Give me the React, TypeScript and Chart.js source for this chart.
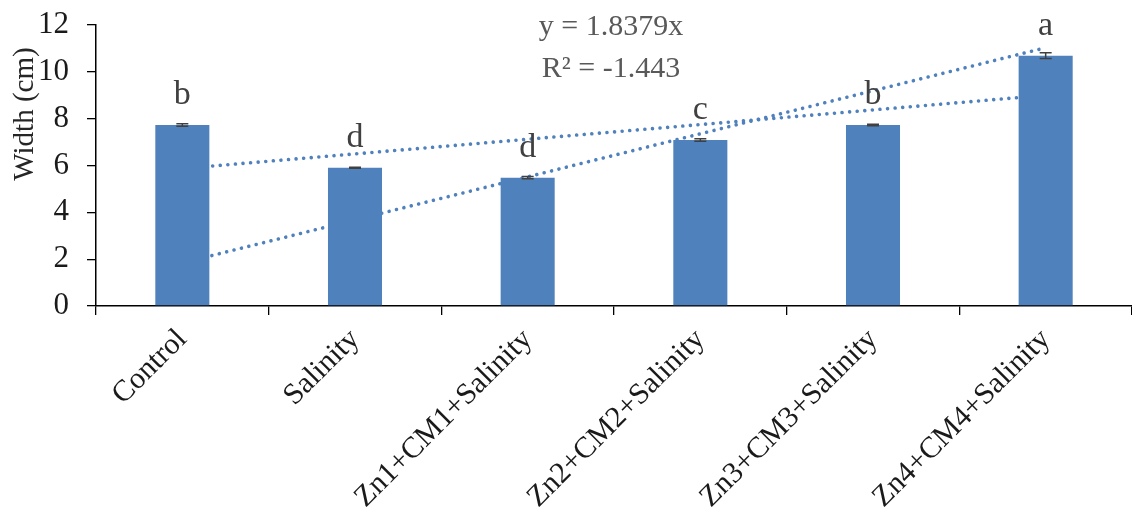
import React, { useEffect, useRef } from "react";
import { Chart, registerables } from "chart.js";

Chart.register(...registerables);

const categories = [
  "Control",
  "Salinity",
  "Zn1+CM1+Salinity",
  "Zn2+CM2+Salinity",
  "Zn3+CM3+Salinity",
  "Zn4+CM4+Salinity",
];
const widthValues = [7.73, 5.9, 5.48, 7.09, 7.73, 10.69];
const errorValues = [0.05, 0.02, 0.05, 0.05, 0.03, 0.12];
const letters = ["b", "d", "d", "c", "b", "a"];
const linearTrend = [5.87, null, null, null, null, 9.0];
const zeroInterceptTrend = [1.84, null, null, null, null, 11.03];
const equationLines = ["y = 1.8379x", "R² = -1.443"];
const yAxisTitle = "Width (cm)";
const yMin = 0;
const yMax = 12;
const yStep = 2;

const SERIF = "'Liberation Serif', 'Times New Roman', serif";
const BLUE = "#4F81BD";

const annotationPlugin = {
  id: "annotations",
  afterDatasetsDraw(chart: any) {
    const ctx = chart.ctx;
    const yScale = chart.scales.y;
    const meta = chart.getDatasetMeta(0);
    ctx.save();
    // error bars
    ctx.strokeStyle = "#404040";
    ctx.lineWidth = 1.5;
    meta.data.forEach((el: any, i: number) => {
      const v = widthValues[i];
      const e = errorValues[i];
      const top = yScale.getPixelForValue(v + e);
      const bot = yScale.getPixelForValue(v - e);
      const x = el.x;
      ctx.beginPath();
      ctx.moveTo(x, top);
      ctx.lineTo(x, bot);
      ctx.moveTo(x - 6, top);
      ctx.lineTo(x + 6, top);
      ctx.moveTo(x - 6, bot);
      ctx.lineTo(x + 6, bot);
      ctx.stroke();
    });
    // significance letters
    ctx.fillStyle = "#404040";
    ctx.font = `34px ${SERIF}`;
    ctx.textAlign = "center";
    ctx.textBaseline = "alphabetic";
    meta.data.forEach((el: any, i: number) => {
      ctx.fillText(letters[i], el.x, el.y - 21);
    });
    ctx.restore();
  },
  afterDraw(chart: any) {
    const ctx = chart.ctx;
    const area = chart.chartArea;
    ctx.save();
    ctx.fillStyle = "#595959";
    ctx.font = `30px ${SERIF}`;
    ctx.textAlign = "center";
    ctx.textBaseline = "alphabetic";
    const cx = (area.left + area.right) / 2 - 3;
    ctx.fillText(equationLines[0], cx, area.top + 10);
    ctx.fillText(equationLines[1], cx, area.top + 52);
    // y axis title
    ctx.fillStyle = "#262626";
    ctx.font = `29px ${SERIF}`;
    ctx.translate(25, 114);
    ctx.rotate(-Math.PI / 2);
    ctx.textBaseline = "middle";
    ctx.fillText(yAxisTitle, 0, 0);
    ctx.restore();
  },
};

export default function App() {
  const canvasRef = useRef<HTMLCanvasElement | null>(null);

  useEffect(() => {
    if (!canvasRef.current) return;
    const chart = new Chart(canvasRef.current, {
      type: "bar",
      data: {
        labels: categories,
        datasets: [
          {
            type: "bar",
            data: widthValues,
            backgroundColor: BLUE,
            borderWidth: 0,
            categoryPercentage: 1,
            barPercentage: 0.313,
            order: 0,
          },
          {
            type: "line",
            data: linearTrend as any,
            borderColor: BLUE,
            borderWidth: 3.6,
            borderDash: [0.01, 7.6],
            borderCapStyle: "round",
            pointRadius: 0,
            spanGaps: true,
            fill: false,
            order: 1,
          },
          {
            type: "line",
            data: zeroInterceptTrend as any,
            borderColor: BLUE,
            borderWidth: 3.6,
            borderDash: [0.01, 7.6],
            borderCapStyle: "round",
            pointRadius: 0,
            spanGaps: true,
            fill: false,
            order: 1,
          },
        ],
      },
      options: {
        responsive: false,
        animation: false,
        events: [],
        layout: { padding: { top: 25, left: 0, right: 0, bottom: 0 } },
        plugins: {
          legend: { display: false },
          tooltip: { enabled: false },
        },
        scales: {
          x: {
            type: "category",
            offset: true,
            grid: {
              offset: true,
              drawOnChartArea: false,
              drawTicks: true,
              tickLength: 9,
              color: "#000",
              lineWidth: 1.3,
            },
            border: { display: true, color: "#000", width: 1.5 },
            ticks: {
              autoSkip: false,
              minRotation: 45,
              maxRotation: 45,
              padding: 7,
              color: "#1a1a1a",
              font: { family: SERIF, size: 30 },
            },
            afterFit: (scale: any) => {
              scale.height = 204;
              scale.paddingLeft = 0;
              scale.paddingRight = 0;
            },
          },
          y: {
            min: yMin,
            max: yMax,
            grid: {
              drawOnChartArea: false,
              drawTicks: true,
              tickLength: 9,
              color: "#000",
              lineWidth: 1.3,
            },
            border: { display: true, color: "#000", width: 1.5 },
            ticks: {
              stepSize: yStep,
              padding: 18,
              color: "#1a1a1a",
              font: { family: SERIF, size: 31 },
            },
            afterFit: (scale: any) => {
              scale.width = 96;
              scale.paddingTop = 0;
              scale.paddingBottom = 0;
            },
          },
        },
      },
      plugins: [annotationPlugin],
    });
    return () => chart.destroy();
  }, []);

  return (
    <div style={{ position: "absolute", left: 0, top: 0, width: 1132, height: 510, background: "#fff" }}>
      <canvas ref={canvasRef} width={1132} height={510} />
    </div>
  );
}
